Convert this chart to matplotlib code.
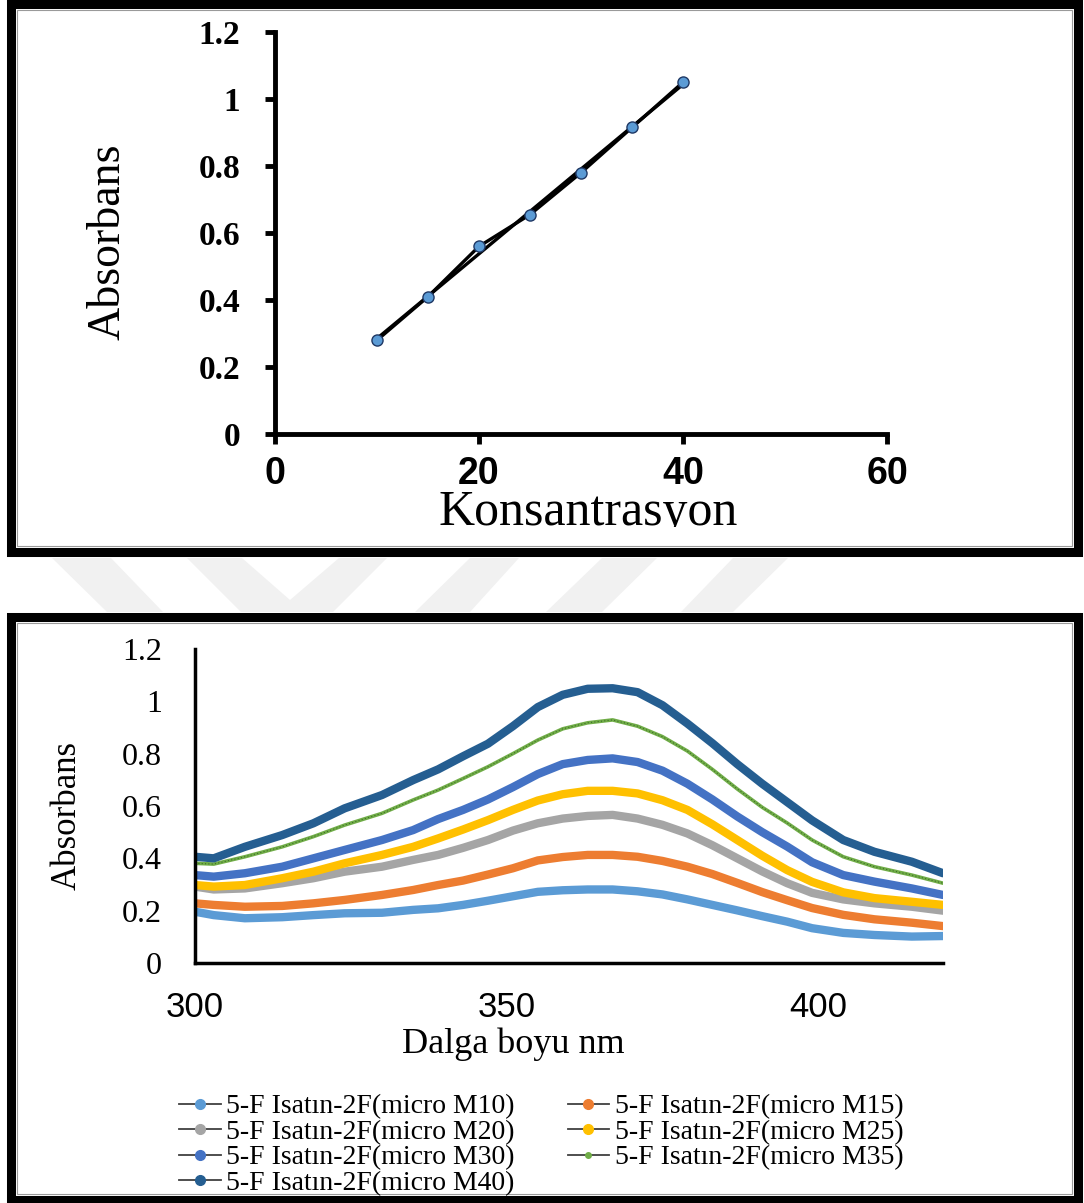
import numpy as np
import matplotlib
matplotlib.use('Agg')
import matplotlib.pyplot as plt
from matplotlib.lines import Line2D
from matplotlib.patches import Rectangle, Polygon
from matplotlib.transforms import Bbox

SERIF = 'Liberation Serif'
SANS = 'Liberation Sans'

# calibration curve (top panel)
konsantrasyon = [10, 15, 20, 25, 30, 35, 40]
absorbans_cal = [0.28, 0.41, 0.56, 0.655, 0.78, 0.915, 1.05]

# spectra (bottom panel)
wavelength = [300, 303, 308, 314, 319, 324, 330, 335, 339, 343, 347, 351, 355, 359,
              363, 367, 371, 375, 379, 383, 387, 391, 395, 399, 404, 409, 415, 420]
m10 = [0.196, 0.183, 0.171, 0.175, 0.183, 0.190, 0.192, 0.203, 0.209, 0.222, 0.238, 0.255, 0.272, 0.278,
       0.281, 0.281, 0.274, 0.262, 0.243, 0.222, 0.201, 0.179, 0.158, 0.133, 0.115, 0.107, 0.101, 0.103]
m15 = [0.228, 0.222, 0.215, 0.218, 0.228, 0.241, 0.260, 0.279, 0.298, 0.315, 0.338, 0.362, 0.392, 0.405,
       0.413, 0.413, 0.406, 0.390, 0.368, 0.340, 0.306, 0.271, 0.240, 0.210, 0.184, 0.167, 0.154, 0.141]
m20 = [0.292, 0.281, 0.285, 0.305, 0.324, 0.349, 0.368, 0.394, 0.413, 0.440, 0.470, 0.506, 0.534, 0.552,
       0.562, 0.566, 0.552, 0.528, 0.495, 0.450, 0.400, 0.350, 0.305, 0.268, 0.243, 0.228, 0.215, 0.200]
m25 = [0.298, 0.292, 0.298, 0.324, 0.349, 0.381, 0.413, 0.444, 0.476, 0.510, 0.546, 0.585, 0.621, 0.645,
       0.658, 0.658, 0.648, 0.622, 0.585, 0.530, 0.470, 0.410, 0.355, 0.310, 0.270, 0.248, 0.234, 0.222]
m30 = [0.336, 0.330, 0.343, 0.368, 0.400, 0.432, 0.470, 0.508, 0.550, 0.585, 0.625, 0.672, 0.722, 0.760,
       0.776, 0.782, 0.768, 0.735, 0.685, 0.625, 0.560, 0.500, 0.445, 0.385, 0.336, 0.311, 0.285, 0.260]
m35 = [0.381, 0.378, 0.406, 0.444, 0.483, 0.527, 0.572, 0.623, 0.661, 0.705, 0.750, 0.800, 0.852, 0.895,
       0.918, 0.929, 0.905, 0.865, 0.810, 0.740, 0.665, 0.595, 0.535, 0.470, 0.406, 0.368, 0.336, 0.305]
m40 = [0.406, 0.400, 0.444, 0.489, 0.534, 0.591, 0.642, 0.699, 0.740, 0.790, 0.838, 0.905, 0.978, 1.025,
       1.048, 1.050, 1.035, 0.985, 0.915, 0.840, 0.760, 0.685, 0.615, 0.545, 0.470, 0.425, 0.387, 0.343]

series_names = ['5-F Isatın-2F(micro M10)', '5-F Isatın-2F(micro M15)',
                '5-F Isatın-2F(micro M20)', '5-F Isatın-2F(micro M25)',
                '5-F Isatın-2F(micro M30)', '5-F Isatın-2F(micro M35)',
                '5-F Isatın-2F(micro M40)']
series_vals = [m10, m15, m20, m25, m30, m35, m40]
series_colors = ['#5B9BD5', '#ED7D31', '#A5A5A5', '#FFC000', '#4472C4', '#70AD47', '#255E91']

yticks = [0, 0.2, 0.4, 0.6, 0.8, 1, 1.2]
ytick_labels = ['0', '0.2', '0.4', '0.6', '0.8', '1', '1.2']

W, H = 1084, 1203
fig = plt.figure(figsize=(W / 100, H / 100), dpi=100)


def fx(x):
    return x / W


def fy(y):
    # pixel row from top -> figure fraction
    return 1 - y / H


# faint watermark between the two panels
band_color = '#F1F1F1'
bands = [
    [(52, 558), (111, 558), (163, 612), (107, 612)],
    [(187, 558), (242, 558), (290, 600), (339, 558), (387, 558), (333, 612), (241, 612)],
    [(470, 558), (519, 558), (470, 612), (415, 612)],
    [(602, 558), (657, 558), (602, 612), (546, 612)],
    [(733, 558), (788, 558), (733, 612), (681, 612)],
]
for pts in bands:
    fig.patches.append(Polygon([(fx(x), fy(y)) for x, y in pts], closed=True,
                               transform=fig.transFigure, facecolor=band_color,
                               edgecolor='none', zorder=0))

# panel frames
for y0, y1 in [(4, 552), (617, 1200)]:
    fig.patches.append(Rectangle((fx(11), fy(y1)), fx(1078 - 11), (y1 - y0) / H,
                                 transform=fig.transFigure, fill=False,
                                 edgecolor='black', linewidth=6.5, zorder=5))
    fig.patches.append(Rectangle((fx(17), fy(y1 - 6)), fx(1072 - 17), (y1 - y0 - 12) / H,
                                 transform=fig.transFigure, fill=False,
                                 edgecolor='#9A9A9A', linewidth=0.8, zorder=5))

# ---- top: calibration ----
ax1 = fig.add_axes([fx(275), fy(434), fx(612), 402 / H])
fit = np.polyfit(konsantrasyon, absorbans_cal, 1)
xfit = np.array([konsantrasyon[0], konsantrasyon[-1]])
ax1.plot(xfit, np.polyval(fit, xfit), color='black', lw=2.4, zorder=2)
ax1.plot(konsantrasyon, absorbans_cal, color='black', lw=2.4, zorder=2)
ax1.plot(konsantrasyon, absorbans_cal, ls='none', marker='o', ms=8,
         mfc='#5B9BD5', mec='#1F3864', mew=1.0, zorder=3)
ax1.set_xlim(0, 60)
ax1.set_ylim(0, 1.2)
ax1.set_xticks([0, 20, 40, 60])
ax1.set_yticks(yticks)
ax1.set_yticklabels(ytick_labels)
for s in ['top', 'right']:
    ax1.spines[s].set_visible(False)
for s in ['left', 'bottom']:
    ax1.spines[s].set_linewidth(3.5)
ax1.tick_params(length=7, width=3.5, direction='out')
ax1.tick_params(axis='x', pad=9, labelsize=27)
ax1.tick_params(axis='y', pad=18, labelsize=24)
for lbl in ax1.get_xticklabels():
    lbl.set_fontfamily(SANS)
    lbl.set_fontweight('bold')
for lbl in ax1.get_yticklabels():
    lbl.set_fontfamily(SERIF)
    lbl.set_fontweight('bold')

fig.text(fx(108), fy(242), 'Absorbans', rotation=90, ha='center', va='center',
         family=SERIF, fontsize=33)
xl = fig.text(fx(588), fy(513), 'Konsantrasyon', ha='center', va='center',
              family=SERIF, fontsize=36)
xl.set_clip_box(Bbox.from_extents(0, H - 527, W, H))
xl.set_clip_on(True)

# ---- bottom: spectra ----
ax2 = fig.add_axes([fx(195), fy(963), fx(748), 314 / H])
for name, vals, color in zip(series_names, series_vals, series_colors):
    if name.endswith('M35)'):
        ax2.plot(wavelength, vals, color=color, lw=2.6,
                 solid_capstyle='round', solid_joinstyle='round')
        ax2.plot(wavelength, vals, color='#3E6B2A', lw=0.8, ls=(0, (1, 2)))
    else:
        ax2.plot(wavelength, vals, color=color, lw=6,
                 solid_capstyle='round', solid_joinstyle='round')
ax2.set_xlim(300, 420)
ax2.set_ylim(0, 1.2)
ax2.set_xticks([300, 350, 400])
ax2.set_yticks(yticks)
ax2.set_yticklabels(ytick_labels)
for s in ['top', 'right']:
    ax2.spines[s].set_visible(False)
for s in ['left', 'bottom']:
    ax2.spines[s].set_linewidth(2.5)
ax2.tick_params(length=0)
ax2.tick_params(axis='x', pad=20, labelsize=25)
ax2.tick_params(axis='y', pad=24, labelsize=23)
for lbl in ax2.get_xticklabels():
    lbl.set_fontfamily(SANS)
for lbl in ax2.get_yticklabels():
    lbl.set_fontfamily(SERIF)

fig.text(fx(67), fy(815), 'Absorbans', rotation=90, ha='center', va='center',
         family=SERIF, fontsize=25)
fig.text(fx(513), fy(1044), 'Dalga boyu nm', ha='center', va='center',
         family=SERIF, fontsize=26)

# legend, rows: M10 M15 / M20 M25 / M30 M35 / M40
handles = []
for name, color in zip(series_names, series_colors):
    ms = 4 if name.endswith('M35)') else 7
    handles.append(Line2D([], [], color='#404040', lw=1.3, marker='o', ms=ms,
                          mfc=color, mec=color))
order = [0, 2, 4, 6, 1, 3, 5]
fig.legend([handles[i] for i in order], [series_names[i] for i in order],
           ncol=2, loc='upper left', bbox_to_anchor=(fx(179), fy(1094)),
           frameon=False, prop={'family': SERIF, 'size': 20},
           handlelength=1.5, handletextpad=0.2, columnspacing=1.9,
           labelspacing=0.0, borderpad=0, borderaxespad=0)

fig.savefig('out.png', dpi=100, facecolor='white')
